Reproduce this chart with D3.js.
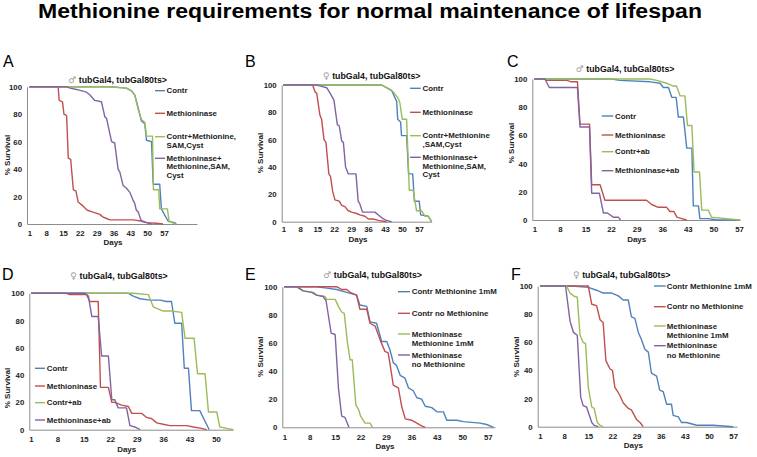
<!DOCTYPE html>
<html><head><meta charset="utf-8">
<script src="https://cdn.jsdelivr.net/npm/d3@7"></script>
<style>
body{margin:0;background:#fff;}
text{font-family:"Liberation Sans",Arial,sans-serif;}
</style></head>
<body><svg id="c" width="757" height="457"></svg>
<script>
// ---------- DATA ----------
const title = "Methionine requirements for normal maintenance of lifespan";
const panelLetters = ["A","B","C","D","E","F"];
const subtitles = ["tubGal4, tubGal80ts>","tubGal4, tubGal80ts>","tubGal4, tubGal80ts>","tubGal4, tubGal80ts>","tubGal4, tubGal80ts>","tubGal4, tubGal80ts>"];
const sexSymbols = ["\u2642","\u2640","\u2642","\u2640","\u2642","\u2640"];
const yTicks = [0,20,40,60,80,100];
const xTicks57 = [1,8,15,22,29,36,43,50,57];
const xTicks50 = [1,8,15,22,29,36,43,50];

const legendA = [["Contr"],["Methioninase"],["Contr+Methionine,","SAM,Cyst"],["Methioninase+","Methionine,SAM,","Cyst"]];
const legendB = [["Contr"],["Methioninase"],["Contr+Methionine",",SAM,Cyst"],["Methioninase+","Methionine,SAM,","Cyst"]];
const legendCD = [["Contr"],["Methioninase"],["Contr+ab"],["Methioninase+ab"]];
const legendEF = [["Contr Methionine 1mM"],["Contr no Methionine"],["Methioninase","Methionine 1mM"],["Methioninase","no Methionine"]];

// Panel A (male)
const aContr = [[1,100],[34.5,100],[41.4,99],[43.5,97],[44.8,94],[46.2,85],[47.6,75],[49.0,73],[49.7,61],[51.8,60],[52.5,29],[55.2,29],[55.9,11],[58.7,2],[61.4,1],[62.1,0]];
const aMeth = [[1,100],[13.0,100],[13.4,90],[14.8,89],[15.4,80],[16.5,79],[17.2,48],[18.2,47],[19.3,25],[20.4,24],[21.3,16],[23.4,13],[25.1,10],[26.9,9],[30.3,7],[31.7,5],[33.1,4],[34.5,3],[44.2,3],[48.3,2],[49.7,1],[53.8,0.5],[56.6,0]];
const aContrPlus = [[1,100],[34.5,100],[41.4,99],[43.5,97],[44.8,94],[46.2,84],[47.6,76],[49.0,74],[49.7,64],[52.2,64],[52.6,25],[54.8,25],[55.2,11],[58.4,11],[59.1,2],[61.8,0]];
const aMethPlus = [[1,100],[16.5,100],[17.9,99],[20.6,98],[24.8,96],[26.2,94],[28.2,90],[31.0,89],[32.4,78],[33.1,77],[35.2,60],[36.5,59],[37.9,40],[38.6,38],[40.0,28],[41.4,26],[42.8,23],[43.5,20],[44.2,17],[44.8,15],[45.5,10],[46.2,9],[47.6,2],[49.7,1],[51.8,0]];

// Panel B (female)
const bContr = [[1,100],[41.6,100],[43.6,98],[45.7,96],[47.8,88],[48.2,75],[49.4,73],[49.8,63],[51.9,63],[52.7,35],[54.4,35],[55.1,15],[57.1,15],[57.7,5],[60.8,4],[62.2,0]];
const bMeth = [[1,100],[13.1,100],[14.1,95],[14.8,94],[16.1,78],[16.8,75],[17.8,60],[18.6,58],[19.8,35],[20.5,33],[21.4,22],[22.3,16],[24.1,15],[25.1,12],[26.4,11],[27.8,8],[29.2,7],[31.3,6],[32.6,5],[34.7,4],[36.1,2],[38.1,2],[40.2,1],[43.6,0]];
const bContrPlus = [[1,100],[41.6,100],[43.6,98],[46.4,95],[48.5,90],[49.1,87],[50.1,75],[51.9,75],[53.0,23],[54.6,23],[56.0,8],[58.1,8],[59.5,4],[60.8,4],[62.2,0]];
const bMethPlus = [[1,100],[14.8,100],[16.8,99],[18.9,98],[20.3,94],[21.9,89],[23.3,71],[24.1,70],[25.1,59],[25.8,58],[26.7,40],[27.8,35],[31.0,35],[31.9,15],[32.6,13],[33.7,7],[38.8,7],[40.9,4],[42.3,2],[43.6,1],[45.7,0]];

// Panel C (male)
const cContr = [[1,100],[22.2,100],[24.4,99],[32.7,98],[35.4,97],[36.3,94],[37.7,94],[38.6,87],[39.8,87],[40.4,73],[41.8,73],[42.7,51],[44.1,51],[44.5,10],[45.9,10],[46.3,1],[48.6,1],[50.9,0],[57.3,0]];
const cMeth = [[1,100],[3.9,100],[4.4,99],[9.9,99],[11.2,98],[12.8,98],[13.5,68],[16.1,68],[16.7,25],[19.0,25],[20.3,14],[31.7,14],[33.1,11],[34.9,9],[37.2,9],[38.1,6],[39.2,6],[40.0,2],[41.3,1],[42.7,0]];
const cContrAb = [[1,100],[32.7,100],[34.5,99],[37.2,97],[39.0,95],[39.9,95],[40.9,88],[42.2,88],[42.9,67],[44.1,67],[44.7,34],[46.2,34],[46.8,7],[48.6,7],[49.5,2],[53.5,1],[57.3,0]];
const cMethAb = [[1,100],[3.9,100],[5.1,94],[12.8,94],[13.5,66],[16.1,66],[16.7,19],[18.8,19],[19.9,5],[21.0,5],[22.6,2],[24.0,2],[24.6,0]];

// Panel D (female)
const dContr = [[1,100],[26.8,100],[28.1,98],[29.9,96],[32.5,95],[35.2,95],[36.9,94],[38.2,94],[39.1,78],[40.9,78],[41.6,45],[42.7,45],[43.5,14],[45.7,14],[48.2,0]];
const dMeth = [[1,100],[10.4,100],[11.3,99],[15.7,99],[16.6,94],[18.8,94],[19.4,31],[21.5,31],[22.4,20],[23.2,20],[25.0,18],[26.8,17],[27.7,12],[30.3,12],[31.6,9],[33.0,8],[34.3,5],[36.0,4],[37.8,3],[42.2,3],[44.0,2],[46.2,1],[47.5,0]];
const dContrAb = [[1,100],[28.1,100],[32.1,99],[33.4,90],[34.3,89],[36.0,87],[38.2,87],[40.9,86],[41.8,67],[44.2,67],[45.1,41],[47.1,41],[48.0,13],[50.2,13],[51.0,2],[52.8,1],[54.6,0]];
const dMethAb = [[1,100],[15.3,100],[16.2,98],[17.1,83],[18.8,83],[19.7,54],[21.5,54],[22.4,22],[23.2,22],[24.1,16],[26.3,16],[27.2,3],[28.5,2],[29.9,0]];

// Panel E (male)
const eContrMet = [[1,100],[9.9,100],[12.7,99],[15.4,98],[18.2,96],[20.9,94],[21.8,87],[23.7,86],[24.6,75],[26.4,74],[27.8,61],[29.2,61],[30.1,55],[31.0,46],[31.9,44],[32.9,37],[34.2,35],[35.2,28],[36.5,26],[37.5,21],[38.8,20],[39.8,15],[41.6,14],[43.0,11],[44.8,11],[45.7,5],[48.5,5],[50.3,4],[54.9,3],[56.7,2],[58.6,0]];
const eContrNo = [[1,100],[15.4,100],[16.8,98],[18.2,98],[19.1,96],[20.9,94],[21.8,84],[23.7,84],[24.6,74],[26.0,72],[27.4,62],[28.7,54],[29.6,53],[30.1,45],[31.0,30],[32.4,28],[33.3,15],[34.3,6],[36.1,5],[37.5,3],[38.8,1],[39.8,0]];
const eMethMet = [[1,100],[4.4,100],[6.2,97],[9.0,96],[9.9,94],[12.2,93],[12.7,91],[15.0,91],[15.9,86],[16.8,82],[17.5,81],[18.4,60],[19.1,48],[19.7,48],[20.7,16],[21.4,13],[22.0,8],[23.2,3],[24.6,3],[25.3,0]];
const eMethNo = [[1,100],[4.4,100],[6.2,97],[8.5,96],[9.9,94],[11.7,93],[12.5,90],[13.9,67],[15.0,66],[15.9,28],[16.8,8],[17.7,7],[18.8,0]];

// Panel F (female)
const fContrMet = [[1,100],[10.2,100],[15.0,99],[17.4,97],[19.3,95],[21.8,95],[23.7,93],[25.1,90],[26.6,90],[27.5,78],[28.5,77],[29.5,67],[30.4,62],[31.4,55],[32.4,53],[33.3,38],[34.8,36],[35.7,26],[36.7,25],[37.7,16],[39.1,16],[39.6,8],[41.1,7],[42.0,3],[43.5,3],[46.4,1],[51.2,1],[57.0,0]];
const fContrNo = [[1,100],[15.0,100],[16.0,87],[17.4,86],[18.4,76],[19.3,74],[20.1,47],[21.3,41],[22.0,40],[22.7,28],[23.5,25],[24.2,22],[25.1,17],[26.6,13],[27.5,12],[29.0,5],[30.0,3],[30.9,0]];
const fMethMet = [[1,100],[8.7,100],[9.7,95],[10.7,93],[11.8,92],[12.6,65],[13.5,60],[14.2,59],[15.0,28],[16.0,14],[16.7,13],[17.6,3],[18.4,1],[19.3,0]];
const fMethNo = [[1,100],[8.4,100],[9.7,75],[10.7,67],[11.8,65],[12.8,21],[13.5,15],[14.5,14],[16.0,3],[16.7,1],[17.9,0]];

// ---------- LAYOUT ----------
const colors = ["#4f81bd","#c0504d","#9bbb59","#8064a2"];
const panels = [
  {series:[aContr,aMeth,aContrPlus,aMethPlus], legend:legendA, ticks:xTicks57,
   dom:[0.04,70.7], xr:[27,197], yr:[224,86.7], lx:[155,165,166.5], ly:[90.7,113.3,136.7,158.3], lsp:8.3,
   letter:[3,67], sub:[117.5,82.5], days:[113,245], ylab:[7.5,155], tp:6.5},
  {series:[bContr,bMeth,bContrPlus,bMethPlus], legend:legendB, ticks:xTicks57,
   dom:[0.34,62.25], xr:[281.7,431.7], yr:[221.7,85], lx:[410,420.7,422.5], ly:[88.3,112.3,135.7,157.3], lsp:8.6,
   letter:[245,67], sub:[371.7,78.5], days:[358,241.5], ylab:[260.5,153], tp:5},
  {series:[cContr,cMeth,cContrAb,cMethAb], legend:legendCD, ticks:xTicks57,
   dom:[0.45,57.27], xr:[532.3,740], yr:[220,79], lx:[601.7,613.3,615], ly:[116,135,151.7,170.7], lsp:8.5,
   letter:[507,67], sub:[625,71.5], days:[636.7,241.5], ylab:[511,143], tp:6},
  {series:[dContr,dMeth,dContrAb,dMethAb], legend:legendCD, ticks:xTicks50,
   dom:[0.55,54.5], xr:[29.3,233], yr:[429.7,293.3], lx:[35,45,46.7], ly:[368.3,386,402.7,420], lsp:8.5,
   letter:[2,280], sub:[119,279], days:[126.7,451.5], ylab:[7.5,388], tp:6.5},
  {series:[eContrMet,eContrNo,eMethMet,eMethNo], legend:legendEF, ticks:xTicks57,
   dom:[0.45,59.0], xr:[282.3,495], yr:[427.3,286.7], lx:[398,410,411.7], ly:[291.7,313.3,334,355], lsp:9.2,
   letter:[245,280], sub:[372.5,278], days:[385,449], ylab:[260.5,356.7], tp:7},
  {series:[fContrMet,fContrNo,fMethMet,fMethNo], legend:legendEF, ticks:xTicks57,
   dom:[0.33,58.1], xr:[537.7,737], yr:[426.7,286], lx:[654,665.7,666.7], ly:[286,306.7,326,345.7], lsp:9.5,
   letter:[511,280], sub:[621.7,278], days:[633.3,448], ylab:[516,356.7], tp:6.5}
];

const svg = d3.select("#c");
svg.append("text").attr("x",370).attr("y",17.5).attr("text-anchor","middle")
  .attr("font-size",19.5).attr("font-weight","bold").attr("fill","#000")
  .attr("textLength",664).attr("lengthAdjust","spacingAndGlyphs").text(title);

panels.forEach((p,i)=>{
  const g = svg.append("g");
  const x = d3.scaleLinear().domain(p.dom).range(p.xr);
  const y = d3.scaleLinear().domain([0,100]).range(p.yr);

  g.append("text").attr("x",p.letter[0]).attr("y",p.letter[1]).attr("font-size",16).attr("fill","#000").text(panelLetters[i]);
  const st = g.append("text").attr("x",p.sub[0]).attr("y",p.sub[1]).attr("text-anchor","middle")
    .attr("font-size",8.8).attr("font-weight","bold").attr("fill","#111");
  st.append("tspan").attr("font-family","DejaVu Sans").attr("font-weight","normal").attr("fill","#999").text(sexSymbols[i]+" ");
  st.append("tspan").text(subtitles[i]);

  // axes
  const xa = g.append("g").attr("transform",`translate(0,${p.yr[0]})`)
    .call(d3.axisBottom(x).tickValues(p.ticks).tickSize(0).tickSizeOuter(0).tickPadding(p.tp).tickFormat(d3.format("d")));
  const ya = g.append("g").attr("transform",`translate(${p.xr[0]},0)`)
    .call(d3.axisLeft(y).tickValues(yTicks).tickSize(0).tickSizeOuter(0).tickPadding(5));
  [xa,ya].forEach(a=>{
    a.select(".domain").attr("stroke","#8c8c8c").attr("stroke-width",1);
    a.selectAll("text").attr("font-size",7.8).attr("font-weight","bold").attr("fill","#222")
      .attr("font-family","'Liberation Sans',Arial,sans-serif");
  });
  g.append("text").attr("x",p.days[0]).attr("y",p.days[1]).attr("text-anchor","middle")
    .attr("font-size",8).attr("font-weight","bold").attr("fill","#222").text("Days");
  g.append("text").attr("transform",`translate(${p.ylab[0]},${p.ylab[1]}) rotate(-90)`).attr("text-anchor","middle")
    .attr("dy","0.35em").attr("font-size",8).attr("font-weight","bold").attr("fill","#222").text("% Survival");

  const line = d3.line().x(d=>x(d[0])).y(d=>y(d[1]));
  p.series.forEach((s,k)=>{
    g.append("path").datum(s).attr("d",line).attr("fill","none").attr("stroke",colors[k])
      .attr("stroke-width",1.4).attr("stroke-linejoin","round");
  });

  // legend
  p.legend.forEach((lines,k)=>{
    const yy = p.ly[k];
    g.append("line").attr("x1",p.lx[0]).attr("x2",p.lx[1]).attr("y1",yy).attr("y2",yy)
      .attr("stroke",colors[k]).attr("stroke-width",1.4);
    const t = g.append("text").attr("x",p.lx[2]).attr("y",yy)
      .attr("font-size",7.9).attr("font-weight","bold").attr("fill","#222");
    lines.forEach((ln,j)=>{
      t.append("tspan").attr("x",p.lx[2]).attr("dy", j===0? "0.35em" : p.lsp).text(ln);
    });
  });
});
</script></body></html>
